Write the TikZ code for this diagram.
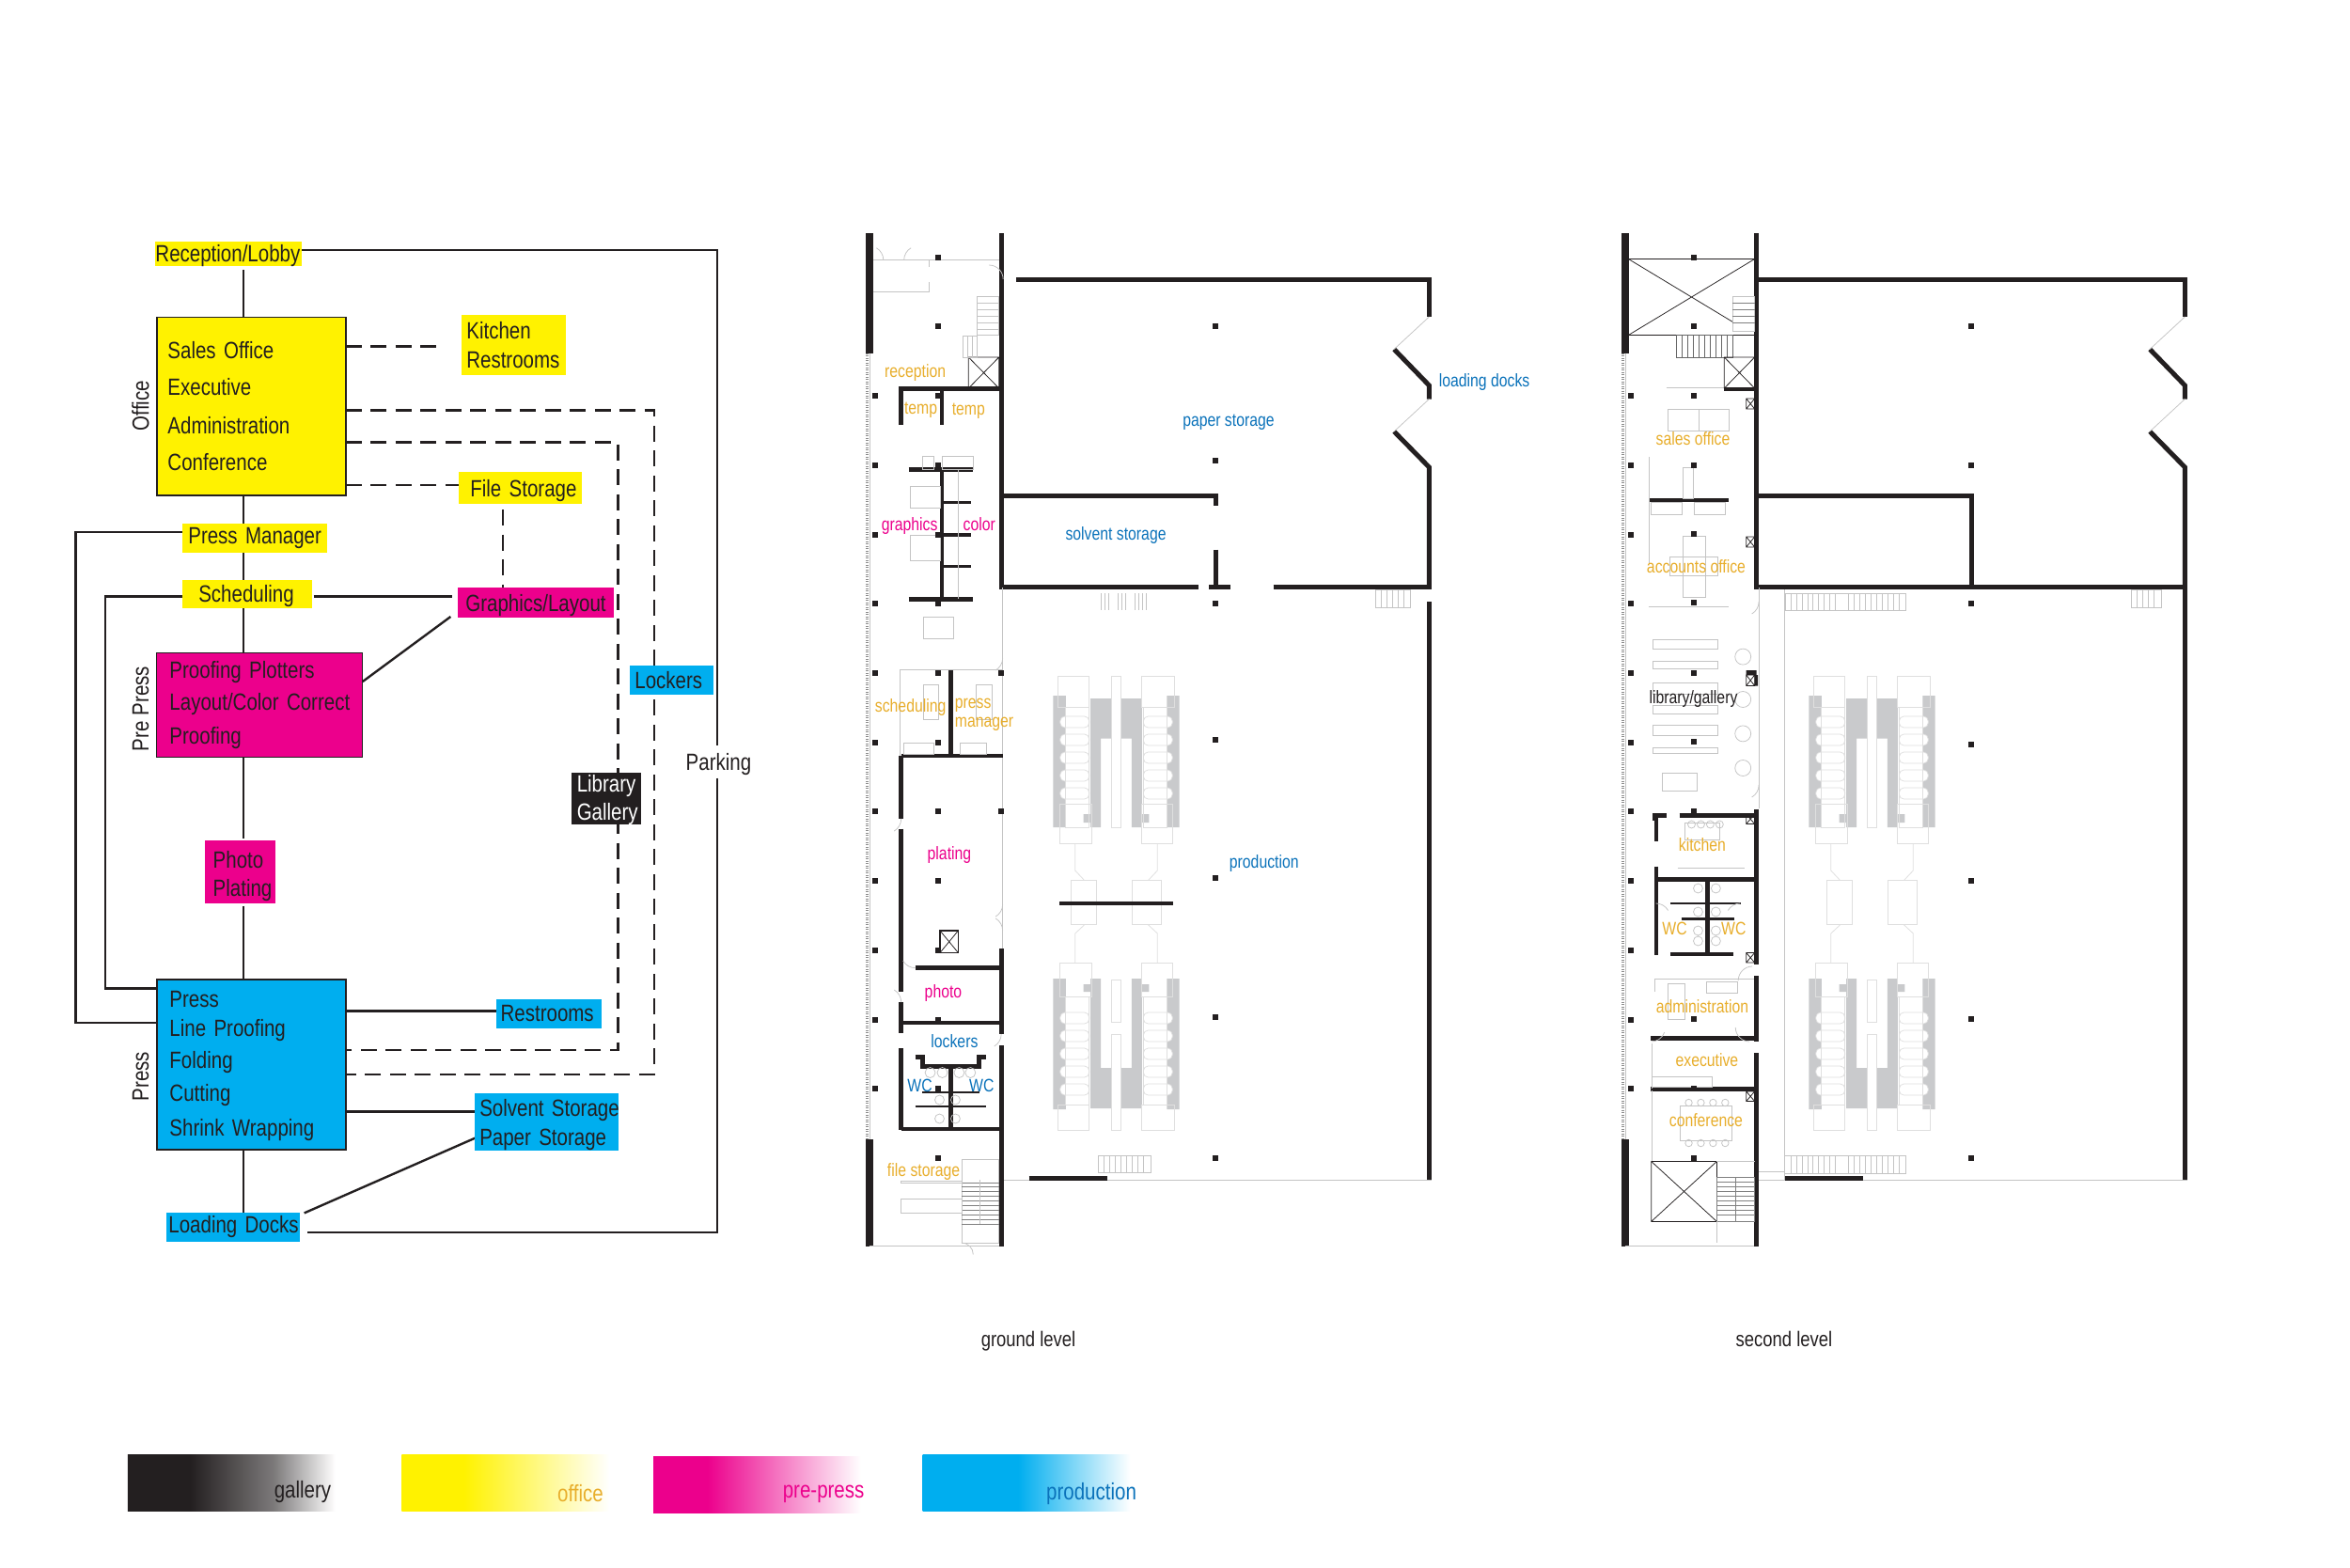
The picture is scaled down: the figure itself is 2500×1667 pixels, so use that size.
\documentclass[tikz,border=0pt]{standalone}
\usepackage{fontspec}
\setmainfont[FakeStretch=0.82]{Liberation Sans}
\usetikzlibrary{backgrounds}
\definecolor{ink}{HTML}{231F20}
\definecolor{cy}{HTML}{00AEEF}
\definecolor{ma}{HTML}{EC008C}
\definecolor{ye}{HTML}{FFF200}
\definecolor{orangetext}{HTML}{E8AE2C}
\definecolor{bluetext}{HTML}{0A72BA}
\definecolor{fineline}{HTML}{C4C4C4}
\definecolor{machline}{HTML}{DFDFDF}
\definecolor{machfill}{HTML}{C9CACC}
\pgfdeclarehorizontalshading{legendk}{100bp}{color(0bp)=(ink);color(40bp)=(ink);color(60bp)=(ink!60!white);color(75bp)=(white);color(100bp)=(white)}
\pgfdeclarehorizontalshading{legendy}{100bp}{color(0bp)=(ye);color(40bp)=(ye);color(75bp)=(white);color(100bp)=(white)}
\pgfdeclarehorizontalshading{legendm}{100bp}{color(0bp)=(ma);color(38bp)=(ma);color(75bp)=(white);color(100bp)=(white)}
\pgfdeclarehorizontalshading{legendc}{100bp}{color(0bp)=(cy);color(48bp)=(cy);color(75bp)=(white);color(100bp)=(white)}
\tikzset{
  tb/.style n args={3}{minimum height=#2*0.4pt, text width=#1*0.398pt, inner xsep=0pt, inner ysep=0pt, outer sep=0pt,
     align=left, text=ink, execute at begin node={\leftskip=#3\dimexpr.4pt\relax}},
  diagfont/.style={font=\fontsize{10}{12}\selectfont},
  side/.style={diagfont, text=ink, rotate=90, inner sep=0pt},
  conn/.style={line width=0.95pt, draw=ink},
  dashconn/.style={line width=1pt, draw=ink, dash pattern=on 6.8pt off 3.8pt},
  frame/.style={draw=ink, line width=0.7pt},
  wall/.style={line width=2pt, draw=ink},
  heavy/.style={line width=3.2pt, draw=ink},
  lightwall/.style={line width=1.3pt, draw=ink},
  fine/.style={line width=0.3pt, draw=fineline},
  mach/.style={line width=0.3pt, draw=machline},
  xbox/.style={line width=0.3pt, draw=ink},
  fl/.style={font=\fontsize{7.7}{9}\selectfont, inner sep=0pt},
  flo/.style={fl, text=orangetext},
  flb/.style={fl, text=bluetext},
  flm/.style={fl, text=ma},
  flk/.style={fl, text=ink},
  levellabel/.style={font=\fontsize{9}{11}\selectfont, text=ink, inner sep=0pt, anchor=base},
  legendlabel/.style={font=\fontsize{10}{12}\selectfont, inner sep=0pt, anchor=east},
}
\newcommand{\colsq}[2]{\fill[ink] (#1-3,#2-3) rectangle (#1+3,#2+3);}
\newcommand{\crossbox}[4]{\draw[xbox] (#1,#2) rectangle (#3,#4) (#1,#2) -- (#3,#4) (#3,#2) -- (#1,#4);}
\newcommand{\door}[4]{\draw[fine] (#1,#2) arc[start angle=#3,end angle=#4,radius=6pt];}
\newcommand{\topline}[1]{\rule{0pt}{#1pt}}
% the shared shell of both levels
\newcommand{\shellwalls}{
  \draw[heavy] (925,248) -- (925,375.5);
  \draw[heavy] (925,1212) -- (925,1325.5);
  \draw[wall] (1523.5,337) -- (1523.5,297);
  \draw[wall] (1486,371.5) -- (1523.5,410) -- (1523.5,424.5);
  \draw[wall] (1486,459) -- (1523.5,497) -- (1523.5,625);
  \draw[fine] (1523.5,337) -- (1486,371.5) (1523.5,424.5) -- (1486,459);
  \draw[fine] (1068,1255.4) -- (1526,1255.4);
  \draw[wall] (1095.5,1253) -- (1179,1253);
  \draw[fine] (925,1325) -- (1068,1325);
  \draw[line width=0.9pt, draw=black!45, dash pattern=on .5pt off .5pt] (922.5,375.5) -- (922.5,1212);
  \draw[fine] (925,375.5) -- (925,1212);
  \foreach \y in {421,494.5,569,642,716,789.5,863,937,1011,1085,1158} {\colsq{931.5}{\y}}
}
\newcommand{\pressunit}{
  \fill[machfill] (1121.5,740) rectangle (1135,880) (1243,740) rectangle (1256.5,880)
    (1161.5,743) rectangle (1172.5,880) (1205.5,743) rectangle (1216.5,880)
    (1161.5,743) rectangle (1183.5,785.5) (1193.5,743) rectangle (1216.5,785.5)
    (1154,866) rectangle (1161.5,875) (1216.5,866) rectangle (1224,875);
  \fill[machfill] (1121.5,1041) rectangle (1135,1180) (1243,1041) rectangle (1256.5,1180)
    (1161.5,1041) rectangle (1172.5,1179) (1205.5,1041) rectangle (1216.5,1179)
    (1161.5,1136) rectangle (1183.5,1179) (1193.5,1136) rectangle (1216.5,1179)
    (1154,1047) rectangle (1161.5,1055) (1216.5,1047) rectangle (1224,1055);
  \foreach \y in {762,781,800,819,838} {
    \draw[mach,fill=white,rounded corners=2pt] (1129,\y) rectangle (1160,\y+12);
    \draw[mach,fill=white,rounded corners=2pt] (1218,\y) rectangle (1249,\y+12);
  }
  \foreach \y in {1077,1096,1115,1134,1153} {
    \draw[mach,fill=white,rounded corners=2pt] (1129,\y) rectangle (1160,\y+12);
    \draw[mach,fill=white,rounded corners=2pt] (1218,\y) rectangle (1249,\y+12);
  }
  \draw[mach] (1126.5,719.5) rectangle (1160,752) (1216,719.5) rectangle (1251,752);
  \draw[mach] (1135,752) rectangle (1160,880) (1218,752) rectangle (1243,880);
  \draw[mach] (1128.5,855.5) rectangle (1162.5,897.6) (1216,855.5) rectangle (1249.5,897.6);
  \draw[mach] (1128.5,1024) rectangle (1162.5,1060) (1216,1024) rectangle (1249.5,1060);
  \draw[mach] (1135,1060) rectangle (1160,1175) (1218,1060) rectangle (1243,1175);
  \draw[mach] (1126.5,1175) rectangle (1160,1202) (1216,1175) rectangle (1251,1202);
  \draw[mach] (1183.5,719.5) rectangle (1193.5,880) (1183.5,1042) rectangle (1193.5,1087) (1183.5,1100) rectangle (1193.5,1202);
  \draw[mach] (1145,897.6) -- (1145,926) -- (1155,936.6) (1233,897.6) -- (1233,926) -- (1223,936.6);
  \draw[mach] (1145,1024) -- (1145,993) -- (1155,983.7) (1233,1024) -- (1233,993) -- (1223,983.7);
  \draw[mach] (1140.5,936.6) rectangle (1167.5,983.7) (1206,936.6) rectangle (1237,983.7);
}
\begin{document}
\begin{tikzpicture}[x=0.4pt,y=-0.4pt]
\useasboundingbox (0,0) rectangle (2500,1667);

% ---------- flow diagram ----------
\begin{scope}[xshift=0.12pt,xscale=0.995]
\coordinate (spine) at (260,300);
\node[tb={156}{26}{0}, fill=ye, diagfont, anchor=north west, align=center] (reception) at (166,257) {\topline{8.5}Reception/Lobby};
\node[tb={202}{189.5}{11.5}, fill=ye, frame, diagfont, anchor=north west] (sales) at (167.5,337.5) {Sales Office\\[3.6pt]Executive\\[4.2pt]Administration\\[3.6pt]Conference};
\node[tb={111.5}{64}{5.5}, fill=ye, diagfont, anchor=north west] (kitchen) at (493,334.7) {\topline{7.6}Kitchen\\[0.64pt]Restrooms};
\node[tb={131.5}{34.5}{12.5}, fill=ye, diagfont, anchor=north west] (filestorage) at (490,501.5) {\topline{9.5}File Storage};
\node[tb={154}{31}{6}, fill=ye, diagfont, anchor=north west] (pressmanager) at (195,557) {Press Manager};
\node[tb={138}{30.5}{17}, fill=ye, diagfont, anchor=north west] (scheduling) at (195,616.6) {\topline{9.2}Scheduling};
\node[tb={167}{31.5}{8.5}, fill=ma, diagfont, anchor=north west] (graphicsbox) at (489,625) {\topline{9.7}\mbox{Graphics/Layout}};
\node[tb={220}{110.5}{13.5}, fill=ma, draw=ink, line width=0.4pt, diagfont, anchor=north west] (proofing) at (167.5,694.5) {Proofing Plotters\\[1.8pt]\mbox{Layout/Color Correct}\\[2.2pt]Proofing};
\node[tb={76}{66.7}{9}, fill=ma, diagfont, anchor=north west] (photo) at (218.5,894) {\topline{11.2}Photo\\Plating};
\node[tb={89.5}{31}{5.5}, fill=cy, diagfont, anchor=north west] (lockers) at (673,708) {Lockers};
\node[tb={75}{55}{6}, fill=ink, diagfont, anchor=north west, text=white] (library) at (610.5,822) {\topline{8}Library\\Gallery};
\node[tb={202}{181}{13.5}, fill=cy, frame, diagfont, anchor=north west] (press) at (167.5,1042) {\topline{8}Press\\[.56pt]Line Proofing\\[1.6pt]Folding\\[1.84pt]Cutting\\[2.96pt]Shrink Wrapping};
\node[tb={112}{31}{4.5}, fill=cy, diagfont, anchor=north west] (restrooms) at (530.5,1063) {Restrooms};
\node[tb={154}{59.5}{5}, fill=cy, diagfont, anchor=north west] (storage) at (507.5,1163) {\topline{9.7}\mbox{Solvent Storage}\\[.56pt]\mbox{Paper Storage}};
\node[tb={143}{31}{2.5}, fill=cy, diagfont, anchor=north west] (docks) at (177.5,1290) {\mbox{Loading Docks}};
\node[diagfont, text=ink, inner sep=0pt, minimum height=13.6pt, text depth=0pt] (parking) at (768,810) {Parking};
\node[side] (officelabel) at (150,431.5) {Office};
\node[side] (prepresslabel) at (150,754) {Pre Press};
\node[side] (presslabel) at (150,1145) {Press};

% named corners of the connectors
\coordinate (parktop) at (766.5,266);
\coordinate (parkbot) at (766.5,1311);
\coordinate (pmleft) at (80.5,566);
\coordinate (pmlow) at (80.5,1088);
\coordinate (schleft) at (112.5,634.4);
\coordinate (schlow) at (112.5,1051.4);
\coordinate (dao) at (699,436.3);
\coordinate (dab) at (699,1143);
\coordinate (dbo) at (660.5,470.7);
\coordinate (dbb) at (660.5,1117);
\coordinate (kitchenrow) at (476,368.7);
\coordinate (filerow) at (490,515.8);
\coordinate (graphicsend) at (483.5,634.4);
\coordinate (diagtop) at (481.5,656);
\coordinate (proofcorner) at (387.5,725);
\coordinate (filecol) at (537.5,542);
\coordinate (restrow) at (369.5,1075.4);
\coordinate (storerow) at (369.5,1182.5);
\coordinate (paperpt) at (507.5,1210.7);
\coordinate (dockpt) at (325,1290.4);

\begin{scope}[on background layer]
\fill[white] (0,0) rectangle (2500,1667);
\draw[conn] ([yshift=-1.4pt]spine |- reception.south) -- (spine |- sales.north);
\draw[conn] (spine |- sales.south) -- (spine |- pressmanager.north);
\draw[conn] (spine |- pressmanager.south) -- (spine |- scheduling.north);
\draw[conn] (spine |- scheduling.south) -- (spine |- proofing.north);
\draw[conn] (spine |- proofing.south) -- ([yshift=1pt]spine |- photo.north);
\draw[conn] ([yshift=-1.2pt]spine |- photo.south) -- (spine |- press.north);
\draw[conn] (spine |- press.south) -- (spine |- docks.north);
\draw[conn] (reception.east |- parktop) -- (parktop) -- (parktop |- parking.north);
\draw[conn] (parktop |- parking.south) -- (parkbot) -- ([xshift=3pt]docks.east |- parkbot);
\draw[conn] (pressmanager.west |- pmleft) -- (pmleft) -- (pmlow) -- (press.west |- pmlow);
\draw[conn] (scheduling.west |- schleft) -- (schleft) -- (schlow) -- (press.west |- schlow);
\draw[conn] ([xshift=.8pt]scheduling.east |- schleft) -- (graphicsend);
\draw[conn] (proofcorner) -- (diagtop);
\draw[conn] (restrow) -- (restrooms.west |- restrow);
\draw[conn] (storerow) -- (storage.west |- storerow);
\draw[conn] (paperpt) -- (dockpt);
\draw[dashconn] (sales.east |- kitchenrow) -- (kitchenrow);
\draw[dashconn] (sales.east |- filerow) -- (filerow);
\draw[dashconn] (sales.east |- dao) -- (dao) -- (dab) -- (press.east |- dab);
\draw[dashconn] (sales.east |- dbo) -- (dbo) -- (dbb) -- (press.east |- dbb);
\draw[dashconn] (filecol) -- (filecol |- graphicsbox.north);
\end{scope}
\end{scope}

% ---------- ground level plan ----------
\begin{scope}[xshift=1.8pt,xscale=0.995]
\shellwalls
\pressunit
\draw[wall] (1066,248) -- (1066,625);
\draw[wall] (1082,297) -- (1526,297);
\draw[wall] (1066,527.4) -- (1295,527.4) -- (1295,538.4);
\draw[wall] (1295,584.7) -- (1295,625);
\draw[wall] (1064,624) -- (1276.5,624) (1288,624) -- (1311,624) (1357,624) -- (1526,624);
\draw[wall] (1523.5,640.4) -- (1523.5,1255.4);
\draw[fine] (1067.5,625) -- (1067.5,1009);
\draw[wall] (1066,1009) -- (1066,1100.4) (1066,1112) -- (1066,1325.5);
\draw[lightwall,line width=1.8pt] (959,452) -- (959,413.5) -- (1066,413.5) (1002.5,413.5) -- (1002.5,452);
\draw[lightwall,line width=1.8pt] (967,499.7) -- (1036,499.7) (967,637.3) -- (1036,637.3) (1002.5,499.7) -- (1002.5,637.3);
\draw[lightwall] (1002.5,534.5) -- (1034,534.5) (1002.5,569) -- (1034,569) (1002.5,602.5) -- (1034,602.5);
\draw[lightwall,line width=1.8pt] (1012,712.4) -- (1012,804) (959,804) -- (1068,804);
\draw[lightwall,line width=1.8pt] (959,804) -- (959,871) (959,881.5) -- (959,1054.5) (959,1066) -- (959,1098.5) (959,1115) -- (959,1202);
\draw[lightwall,line width=1.8pt] (974,1029.6) -- (1065,1029.6) (959,1088) -- (1065,1088) (959,1201) -- (1066,1201);
\draw[lightwall,line width=2pt] (1012,1134) -- (1012,1201) (974,1124.5) -- (981.5,1124.5) -- (981.5,1134) -- (1042.5,1134) -- (1042.5,1124.5) -- (1050,1124.5);
\draw[lightwall,line width=.8pt] (981.5,1161.6) -- (1042.5,1161.6) (974,1177) -- (1050,1177);
\draw[line width=1.6pt,draw=ink] (1128.5,961) -- (1249.5,961);
\crossbox{1000.5}{990}{1020}{1013.5}
\draw[line width=.7pt,draw=ink] (1000.5,990) rectangle (1020,1013.5);
\crossbox{1031}{380}{1063.5}{413}
% stairs
\draw[fine] (1040,315.4) rectangle (1063.5,356.5);
\foreach \y in {322,329,336,343,350} {\draw[fine] (1040,\y) -- (1063.5,\y);}
\draw[fine] (1025,357) rectangle (1040,380);
\foreach \x in {1030,1035} {\draw[fine] (\x,357) -- (\x,380);}
\foreach \x in {1173,1177,1181,1191,1195,1199,1209,1213,1217,1221} {\draw[fine] (\x,631) -- (\x,649);}
\draw[fine] (1466,627.4) rectangle (1503.5,646);
\foreach \x in {1472,1478,1484,1490,1496} {\draw[fine] (\x,627.4) -- (\x,646);}
\draw[fine] (1170,1229.4) rectangle (1226,1247.8);
\foreach \x in {1176,1182,1188,1194,1200,1206,1212,1218} {\draw[fine] (\x,1229.4) -- (\x,1247.8);}
\draw[fine] (1023.5,1233.6) rectangle (1063.5,1322);
\foreach \y in {1258,1262,1267,1272,1277,1282,1287,1292,1297,1302} {\draw[line width=.4pt,draw=black!50] (1023.5,\y) -- (1063.5,\y);}
\draw[fine] (1043,1255) -- (1043,1302);
% entry and furniture
\draw[fine] (929,276.7) -- (1063.5,276.7) (929,310) -- (989,310) -- (989,300) (989,276.7) -- (989,284);
\door{962}{276.7}{180}{120}
\door{940}{276.7}{0}{60}
\door{1068}{297}{0}{90}
\draw[fine] (969,517.5) rectangle (1001,540.4) (969,569) rectangle (1001,596) (982.5,656) rectangle (1015,679);
\draw[fine] (982,485) rectangle (994,499) (1003,485) rectangle (1036,499);
\draw[fine] (1020,500) -- (1020,637);
\draw[fine] (957.5,804) -- (957.5,712.4) -- (1067.5,712.4);
\draw[fine] (983,728) rectangle (999,765) (1039,728) rectangle (1056,765);
\draw[fine] (962,790) rectangle (994,802) (1022,790) rectangle (1050,802);
\door{1067.5}{700}{0}{-60}
\door{1067.5}{962}{0}{-60}
\door{1067.5}{990}{0}{60}
\door{1066}{1100}{0}{-60}
\door{959}{871}{0}{-60}
\door{959}{1066}{0}{60}
\door{974}{1029.6}{-90}{-150}
\draw[fine] (1023.5,1322) arc[start angle=90,end angle=0,radius=5pt];
\draw[fine] (959,1256) rectangle (1023.5,1258) (959,1275) rectangle (1023.5,1290);
\foreach \x in {990,1003,1021,1033} {\draw[fine] (\x,1141) circle[radius=2.2pt];}
\foreach \x in {1000,1017} {\draw[fine] (\x,1170) circle[radius=2pt] (\x,1190) circle[radius=2pt];}
% columns
\foreach \y in {273.5,347,421,494.5,569,642,716,789.5,863,937,1011,1085,1158,1232} {\colsq{998.5}{\y}}
\foreach \y in {716,863} {\colsq{1066}{\y}}
\foreach \y in {347,490,642,787,934,1082,1232} {\colsq{1295}{\y}}
% labels
\begin{scope}[yshift=-0.6pt]
\node[flo] (lreception) at (974,395) {reception};
\node[flo] (ltempa) at (980,434.4) {temp};
\node[flo] (ltempb) at (1031,435.6) {temp};
\node[flm] (lgraphics) at (968,558) {graphics};
\node[flm] (lcolor) at (1042.5,556) {color};
\node[flb] (lpaper) at (1309,448) {paper storage};
\node[flb] (lsolvent) at (1188.5,568) {solvent storage};
\node[flb] (ldocks) at (1582.5,405) {loading docks};
\node[flo] (lsched) at (969,751) {scheduling};
\node[flo, anchor=west] (lpress) at (1016,749) {press};
\node[flo, anchor=west] (lmanager) at (1016,769) {manager};
\node[flm] (lplating) at (1010.5,908) {plating};
\node[flb] (lproduction) at (1347,917) {production};
\node[flm] (lphoto) at (1004,1055) {photo};
\node[flb] (llockers) at (1016,1106) {lockers};
\node[flb] (lwca) at (979,1153) {WC};
\node[flb] (lwcb) at (1045,1153) {WC};
\node[flo] (lfile) at (983,1245) {file storage};
\end{scope}
\end{scope}
\node[levellabel] (lground) at (1094,1432) {ground level};

% ---------- second level plan ----------
\begin{scope}[xshift=3.4pt,xscale=0.995]
\begin{scope}[xshift=321.6pt]
\shellwalls
\pressunit
\draw[fine] (1095.5,625) -- (1095.5,1255);
\draw[wall] (1523.5,625) -- (1523.5,1255.4);
\end{scope}
\draw[wall] (1869.5,248) -- (1869.5,625);
\draw[wall] (1869.5,297) -- (2330,297);
\draw[wall] (1869.5,527.4) -- (2099,527.4) -- (2099,625);
\draw[wall] (1867,624) -- (2330,624);
\draw[fine] (1872,625) -- (1872,860);
\door{1872}{640}{0}{-60}
\door{1872}{835}{0}{-60}
\draw[wall] (1869.5,860.5) -- (1869.5,1026) (1869.5,1038) -- (1869.5,1108) (1869.5,1120) -- (1869.5,1325.5);
\draw[lightwall,line width=1.6pt] (1835,413.5) -- (1869.5,413.5);
\draw[fine] (1773,412) -- (1835,412);
\draw[lightwall,line width=1.6pt] (1755,531.7) -- (1840,531.7);
\draw[fine] (1755,486) -- (1755,600);
\crossbox{1732.5}{275.5}{1867.5}{356.5}
\fill[white] (1844.5,316) rectangle (1867,356);
\draw[fine] (1844,315.4) rectangle (1867.5,352.6);
\foreach \y in {322,329,336,343} {\draw[line width=.3pt,draw=black!50] (1844,\y) -- (1867.5,\y);}
\draw[line width=.3pt,draw=black!60] (1784,356.5) rectangle (1844,380);
\foreach \x in {1790,1796,1802,1808,1814,1820,1826,1832,1838} {\draw[line width=.3pt,draw=black!60] (\x,356.5) -- (\x,380);}
\crossbox{1835}{380}{1867.5}{413}
\foreach \y/\z in {424/435,571/582,718/729.5,866/876.5,1013.5/1024,1161/1171.5} {\crossbox{1858.5}{\y}{1867.5}{\z}}
\fill[ink] (1858.5,713) rectangle (1869.5,718) (1867.5,718) rectangle (1871,729.5);
\draw[lightwall,line width=2pt] (1761,873) -- (1761,867) -- (1773.5,867) (1787,867) -- (1869.5,867);
\draw[lightwall,line width=1.8pt] (1762.5,867) -- (1762.5,894.5) (1762.5,921.7) -- (1762.5,1016);
\draw[wall] (1762.5,935) -- (1869.5,935);
\draw[wall] (1817.5,935) -- (1817.5,1014);
\draw[lightwall,line width=1.6pt] (1777.5,1014.7) -- (1845,1014.7);
\draw[lightwall,line width=.6pt] (1777.5,961) -- (1852.5,961);
\draw[lightwall,line width=1pt] (1789,977.6) -- (1846,977.6);
\draw[fine] (1761,1055) -- (1761,1041) -- (1867,1041);
\draw[wall,line width=1.8pt] (1756.5,1104.6) -- (1869.5,1104.6) (1756.5,1158.6) -- (1869.5,1158.6);
\crossbox{1757}{1235.5}{1827}{1299.4}
\draw[line width=.3pt,draw=black!50] (1827,1252.7) rectangle (1867.5,1299.4) (1847,1252.7) -- (1847,1299.4);
\foreach \y in {1257,1262,1267,1272,1277,1282,1287,1292} {\draw[line width=.3pt,draw=black!50] (1827,\y) -- (1867.5,\y);}
\draw[fine] (1827,1235.5) -- (1867.5,1235.5) (1827,1299.4) -- (1827,1322);
\draw[fine] (1900,631) rectangle (2029,649);
\foreach \x in {1906,1912,1918,1924,1930,1936,1942,1948,1954,1968,1974,1980,1986,1992,1998,2004,2010,2016,2022} {\draw[fine] (\x,631) -- (\x,649);}
\draw[fine] (1899.5,1229.4) rectangle (2029,1248.5);
\foreach \x in {1906,1912,1918,1924,1930,1936,1942,1948,1954,1968,1974,1980,1986,1992,1998,2004,2010,2016,2022} {\draw[fine] (\x,1229.4) -- (\x,1248.5);}
\draw[fine] (2270,627) rectangle (2302.5,646);
\foreach \x in {2276,2282,2288,2294} {\draw[fine] (\x,627) -- (\x,646);}
\draw[fine] (1872,1246) -- (1899.5,1246);
% furniture
\draw[fine] (1775,435) rectangle (1840,458) (1808,435) -- (1808,458);
\draw[fine] (1791,497) rectangle (1802,530) (1757,534) rectangle (1790,547) (1803,534) rectangle (1836,547);
\draw[fine] (1791,570) rectangle (1815,635) (1777,592) rectangle (1828,612);
\draw[fine] (1754,645) -- (1840,645);
\foreach \a/\b in {680/690.6,703/711.6,726/738,750/759,771.7/782.4,795.4/801.4} {\draw[fine] (1759,\a) rectangle (1828.5,\b);}
\foreach \y in {698.6,744,780.4,817} {\draw[fine] (1855,\y) circle[radius=3.4pt];}
\draw[fine] (1769,822.3) rectangle (1806,841);
\draw[fine] (1793,875) rectangle (1830,893) (1785,923) -- (1857,923);
\foreach \x in {1800,1810,1820,1830} {\draw[fine] (\x,877) circle[radius=1.6pt];}
\draw[fine] (1775,1046) rectangle (1793,1084) (1816,1044) rectangle (1849,1056);
\draw[fine] (1758,1145) rectangle (1822,1156);
\draw[fine] (1788,1176) rectangle (1843,1213);
\foreach \x in {1797,1810,1823,1836} {\draw[fine] (\x,1173) circle[radius=1.5pt] (\x,1216) circle[radius=1.5pt];}
\foreach \x in {1807,1826} {\draw[fine] (\x,945) circle[radius=2pt] (\x,970) circle[radius=2pt] (\x,990) circle[radius=2pt] (\x,1001) circle[radius=2pt];}
\door{1762}{961}{90}{30}
\door{1852}{961}{90}{150}
\door{1865}{1028}{90}{180}
\door{1862}{1108}{-90}{-180}
\door{1757}{1108}{-90}{-20}
\draw[fine] (1758,1110) -- (1758,1158) (1758,1160) -- (1758,1235);
% columns
\foreach \y in {273.5,347,421,494.5,568,641,716,789} {\colsq{1802.5}{\y}}
\foreach \y in {863,1084,1158,1232} {\colsq{1802.5}{\y}}
\foreach \y in {347,494.5,641.6,791.5,936.6,1084,1232} {\colsq{2098.5}{\y}}
% labels
\node[flo] (lsales) at (1801.5,467) {sales office};
\node[flo] (laccounts) at (1805,603) {accounts office};
\node[flk] (llibrary) at (1802,744) {library/gallery};
\node[flo] (lkitchen) at (1811.5,899) {kitchen};
\node[flo] (lwcc) at (1782,988) {WC};
\node[flo] (lwcd) at (1845,988) {WC};
\node[flo] (ladmin) at (1811.5,1071) {administration};
\node[flo] (lexec) at (1816.5,1128) {executive};
\node[flo] (lconf) at (1815.5,1192) {conference};
\end{scope}
\node[levellabel] (lsecond) at (1898,1432) {second level};

% ---------- legend ----------
\begin{scope}[xshift=0.2pt,xscale=0.995]
\shade[shading=legendk] (136,1547) rectangle (358,1607);
\shade[shading=legendy] (429,1547) rectangle (651,1607);
\shade[shading=legendm] (698,1549) rectangle (920,1609);
\shade[shading=legendc] (986,1547) rectangle (1208,1607);
\node[legendlabel, text=ink] (lgallery) at (354,1587) {gallery};
\node[legendlabel, text=orangetext] (loffice) at (645,1589) {office};
\node[legendlabel, text=ma] (lprepress) at (924,1589) {pre-press};
\node[legendlabel, text=bluetext] (lprod) at (1215,1589) {production};
\end{scope}
\end{tikzpicture}
\end{document}
